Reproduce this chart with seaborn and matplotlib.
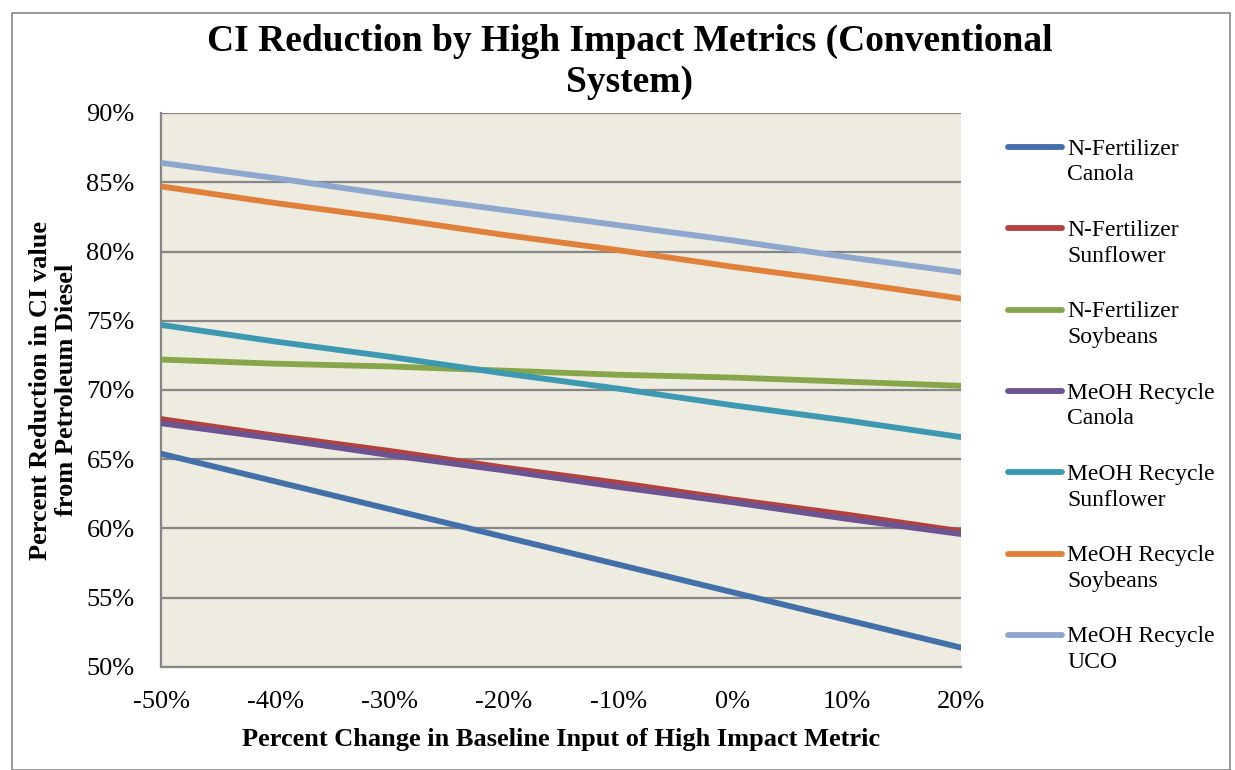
import seaborn as sns
import matplotlib.pyplot as plt
import pandas as pd
from matplotlib.patches import Rectangle
from matplotlib.lines import Line2D

# percent change in baseline input (x axis)
pct_change = [-50, -40, -30, -20, -10, 0, 10, 20]

n_fert_canola = [65.4, 63.4, 61.4, 59.4, 57.4, 55.4, 53.4, 51.4]
n_fert_sunflower = [67.9, 66.7, 65.6, 64.4, 63.3, 62.1, 61.0, 59.8]
n_fert_soybeans = [72.2, 71.9, 71.7, 71.4, 71.1, 70.9, 70.6, 70.3]
meoh_canola = [67.6, 66.5, 65.3, 64.2, 63.0, 61.9, 60.7, 59.6]
meoh_sunflower = [74.7, 73.5, 72.4, 71.2, 70.1, 68.9, 67.8, 66.6]
meoh_soybeans = [84.7, 83.5, 82.4, 81.2, 80.1, 78.9, 77.8, 76.6]
meoh_uco = [86.4, 85.3, 84.1, 83.0, 81.9, 80.8, 79.6, 78.5]

series_names = ["N-Fertilizer\nCanola", "N-Fertilizer\nSunflower", "N-Fertilizer\nSoybeans",
                "MeOH Recycle\nCanola", "MeOH Recycle\nSunflower", "MeOH Recycle\nSoybeans",
                "MeOH Recycle\nUCO"]
series_values = [n_fert_canola, n_fert_sunflower, n_fert_soybeans, meoh_canola,
                 meoh_sunflower, meoh_soybeans, meoh_uco]
colors = ["#4470aa", "#b3423f", "#87a64b", "#6c5391", "#3d99b2", "#e0803a", "#8ea7cf"]

rows = []
for name, vals in zip(series_names, series_values):
    for x, v in zip(pct_change, vals):
        rows.append({"change": x, "reduction": v, "series": name})
df = pd.DataFrame(rows)

sns.set_style("white")
plt.rcParams['font.family'] = ['Liberation Serif', 'DejaVu Serif']
plt.rcParams['text.color'] = 'black'
plt.rcParams['axes.labelcolor'] = 'black'
plt.rcParams['xtick.color'] = 'black'
plt.rcParams['ytick.color'] = 'black'

W, H = 1235, 770
fig = plt.figure(figsize=(W / 100, H / 100), dpi=100)
ax = fig.add_axes([161 / W, 1 - 667 / H, 800 / W, 554 / H])
ax.set_facecolor("#eeebe0")

sns.lineplot(data=df, x="change", y="reduction", hue="series", palette=colors,
             linewidth=4.2, ax=ax, solid_capstyle="round", legend=False, zorder=3)

ax.set_xlim(-50, 20)
ax.set_ylim(50, 90)
ax.set_xticks(pct_change)
ax.set_xticklabels([f"{x}%" for x in pct_change])
ax.set_yticks(range(50, 91, 5))
ax.set_yticklabels([f"{y}%" for y in range(50, 91, 5)])
ax.tick_params(axis="x", labelsize=19, length=0, pad=17)
ax.tick_params(axis="y", labelsize=19, length=0, pad=19)
ax.grid(axis="y", color="#868686", linewidth=1.6, zorder=1)
ax.set_axisbelow(True)
for s in ["top", "right"]:
    ax.spines[s].set_visible(False)
for s in ["left", "bottom"]:
    ax.spines[s].set_color("#868686")
    ax.spines[s].set_linewidth(1.6)

ax.set_xlabel("Percent Change in Baseline Input of High Impact Metric",
              fontsize=19, fontweight="bold", labelpad=11)
ax.set_ylabel("Percent Reduction in CI value\nfrom Petroleum Diesel",
              fontsize=19, fontweight="bold", labelpad=6, linespacing=1.15)

fig.text(630 / W, 1 - 62 / H,
         "CI Reduction by High Impact Metrics (Conventional\nSystem)",
         fontsize=27, fontweight="bold", ha="center", va="center", linespacing=1.2)

# legend drawn at figure level: handle beside first line of each label
for i, (name, c) in enumerate(zip(series_names, colors)):
    y = 1 - (147 + 81.3 * i) / H
    fig.lines.append(Line2D([1008 / W, 1062 / W], [y, y], transform=fig.transFigure,
                            color=c, linewidth=4.2, solid_capstyle="round"))
    fig.text(1067 / W, 1 - (147 + 81.3 * i + 15) / H, name, fontsize=17,
             ha="left", va="center", linespacing=1.3)

fig.patches.append(Rectangle((12 / W, 0), 1218 / W, 1 - 13 / H,
                             transform=fig.transFigure, fill=False,
                             edgecolor="#888888", linewidth=1.2))

fig.savefig("out.png", dpi=100)
